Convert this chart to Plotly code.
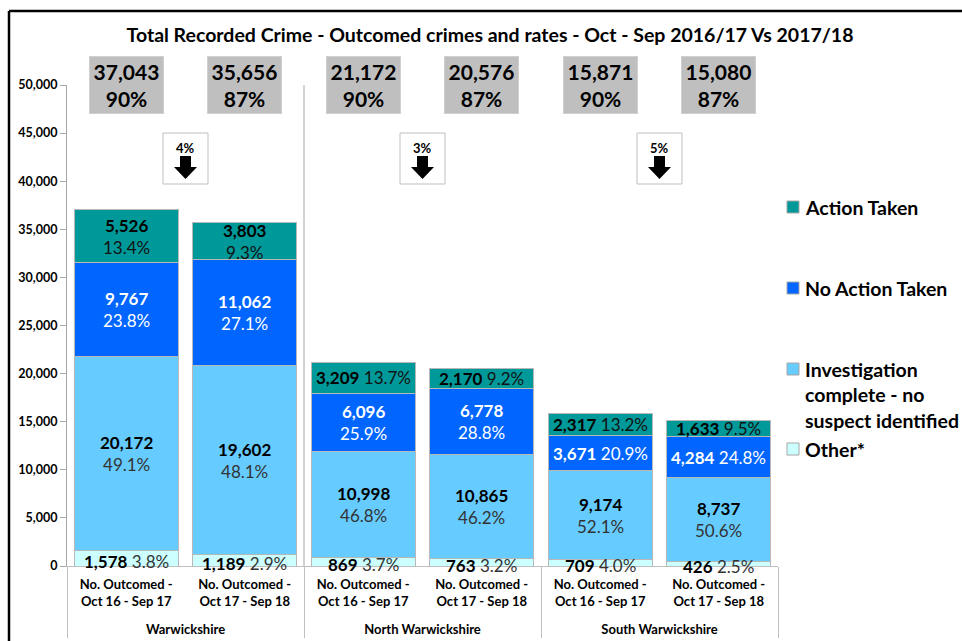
import plotly.graph_objects as go

# ---------------- data ----------------
regions = ["Warwickshire", "Warwickshire",
           "North Warwickshire", "North Warwickshire",
           "South Warwickshire", "South Warwickshire"]
periods = ["No. Outcomed -<br>Oct 16 - Sep 17<br>\u00a0", "No. Outcomed -<br>Oct 17 - Sep 18<br>\u00a0"] * 3

other = [1578, 1189, 869, 763, 709, 426]
investigation = [20172, 19602, 10998, 10865, 9174, 8737]
no_action = [9767, 11062, 6096, 6778, 3671, 4284]
action_taken = [5526, 3803, 3209, 2170, 2317, 1633]

other_pct = [3.8, 2.9, 3.7, 3.2, 4.0, 2.5]
investigation_pct = [49.1, 48.1, 46.8, 46.2, 52.1, 50.6]
no_action_pct = [23.8, 27.1, 25.9, 28.8, 20.9, 24.8]
action_taken_pct = [13.4, 9.3, 13.7, 9.2, 13.2, 9.5]

total_outcomed = [37043, 35656, 21172, 20576, 15871, 15080]
outcome_rate = [90, 87, 90, 87, 90, 87]

change_pct = [4, 3, 5]          # decrease per region (pairs of bars)
y_ticks = list(range(0, 50001, 5000))

title_text = "Total Recorded Crime - Outcomed crimes and rates - Oct - Sep 2016/17 Vs 2017/18"

# ---------------- styles ----------------
FONT = "Lato"
series = [
    # name, values, pct, colour, value colour, pct colour, bars from which label is on one line
    ("Other*", other, other_pct, "#ccffff", "black", "#333333", 0),
    ("Investigation complete - no suspect identified", investigation, investigation_pct,
     "#66ccff", "black", "#333333", 6),
    ("No Action Taken", no_action, no_action_pct, "#0066ff", "white", "white", 4),
    ("Action Taken", action_taken, action_taken_pct, "#009999", "black", "#111111", 2),
]

W, H = 962, 641
L, R, T, B = 67, 778, 85, 566
n = len(regions)


def xp(i):          # category index -> paper x
    return (i + 0.5) / n


def px_x(px):       # pixel -> paper
    return (px - L) / (R - L)


def px_y(py):
    return (B - py) / (B - T)


fig = go.Figure()
for name, vals, pcts, col, vc, pc, one_from in series:
    fig.add_trace(go.Bar(
        x=[regions, periods], y=vals, name=name,
        marker=dict(color=col, line=dict(color="#b8b8b8", width=1)),
        hoverinfo="y+name",
    ))

annotations = []
shapes = []

# segment labels
base = [0] * n
for name, vals, pcts, col, vc, pc, one_from in series:
    for i in range(n):
        mid = base[i] + vals[i] / 2
        if i >= one_from:
            txt = f"<b>{vals[i]:,}</b> <span style='color:{pc}'>{pcts[i]:.1f}%</span>"
        else:
            txt = f"<b>{vals[i]:,}</b><br><span style='color:{pc}'>{pcts[i]:.1f}%</span>"
        annotations.append(dict(
            x=xp(i), xref="paper", xanchor="center", y=mid, yref="y", yanchor="middle",
            text=txt, showarrow=False,
            font=dict(family=FONT, size=17, color=vc),
            yshift=-3 if name == "Other*" else 0,
        ))
        base[i] += vals[i]

# totals boxes
for i in range(n):
    annotations.append(dict(
        x=xp(i), xref="paper", xanchor="center", y=1, yref="paper", yanchor="middle",
        text=f"<b>{total_outcomed[i]:,}<br>{outcome_rate[i]}%</b>",
        showarrow=False, bgcolor="#bfbfbf", bordercolor="#d0d0d0", borderwidth=1,
        borderpad=0, width=73, height=56,
        font=dict(family=FONT, size=21, color="black"),
    ))

# change boxes with arrows
for k, c in enumerate(change_pct):
    cx = xp(2 * k + 0.5)
    half = 22.5 / (R - L)
    shapes.append(dict(type="rect", xref="paper", yref="paper",
                       x0=cx - half, x1=cx + half, y0=px_y(184), y1=px_y(133),
                       line=dict(color="#bfbfbf", width=1), fillcolor="white"))
    annotations.append(dict(x=cx, xref="paper", xanchor="center",
                            y=px_y(148), yref="paper", yanchor="middle",
                            text=f"<b>{c}%</b>", showarrow=False,
                            font=dict(family=FONT, size=13, color="black")))
    shapes.append(dict(type="path", xref="paper", yref="paper",
                       xsizemode="pixel", ysizemode="pixel",
                       xanchor=cx, yanchor=px_y(167),
                       path="M -5.5 11 L 5.5 11 L 5.5 0 L 11.5 0 L 0 -12 L -11.5 0 L -5.5 0 Z",
                       fillcolor="black", line=dict(color="black", width=0)))

# separator inside plot between Warwickshire and districts
shapes.append(dict(type="line", xref="paper", yref="paper",
                   x0=xp(1.5), x1=xp(1.5), y0=0, y1=1,
                   line=dict(color="#a6a6a6", width=1)))

# outer frame (top and left)
shapes.append(dict(type="line", xref="paper", yref="paper",
                   x0=px_x(9), x1=px_x(970), y0=px_y(11), y1=px_y(11),
                   line=dict(color="black", width=2.5)))
shapes.append(dict(type="line", xref="paper", yref="paper",
                   x0=px_x(9), x1=px_x(9), y0=px_y(11), y1=px_y(650),
                   line=dict(color="black", width=2.5)))

# legend (manual)
legend_rows = [("Action Taken", "#009999", 207),
               ("No Action Taken", "#0066ff", 288),
               ("Investigation<br>complete - no<br>suspect identified", "#66ccff", 369),
               ("Other*", "#ccffff", 449)]
for name, col, yc in legend_rows:
    shapes.append(dict(type="rect", xref="paper", yref="paper",
                       x0=px_x(787), x1=px_x(799), y0=px_y(yc + 6), y1=px_y(yc - 6),
                       fillcolor=col, line=dict(color="#a6a6a6", width=1)))
    annotations.append(dict(x=px_x(804), xref="paper", y=px_y(yc - 12.5), yref="paper",
                            xanchor="left", yanchor="top", align="left",
                            text=f"<b>{name}</b>", showarrow=False, borderpad=0,
                            font=dict(family=FONT, size=19.5, color="black")))

fig.update_layout(
    width=W, height=H,
    margin=dict(l=L, r=W - R, t=T, b=H - B),
    barmode="stack", bargap=0.12,
    plot_bgcolor="white", paper_bgcolor="white",
    showlegend=False,
    font=dict(family=FONT, color="black"),
    title=dict(text=f"<b>{title_text}</b>", x=490 / W, xref="container", xanchor="center",
               y=1 - 35 / H, yref="container", yanchor="middle",
               font=dict(family=FONT, size=19.5, color="black")),
    xaxis=dict(type="multicategory", showline=True, linecolor="#bfbfbf", linewidth=1,
               ticks="", ticklabelstandoff=6, automargin=False,
               showgrid=False, showdividers=True, dividercolor="#bfbfbf",
               dividerwidth=1, tickfont=dict(family=FONT, size=13, color="black", weight="bold")),
    yaxis=dict(range=[0, 50000], tickvals=y_ticks, tickformat=",", ticks="outside",
               ticklen=6, tickcolor="#a6a6a6", showline=True, linecolor="#a6a6a6",
               showgrid=False, zeroline=False, automargin=False,
               tickfont=dict(family=FONT, size=12.5, color="black", weight="bold")),
    annotations=annotations, shapes=shapes,
)

fig.write_html("out.html", config={"displayModeBar": False},
               post_script="document.body.style.margin='0px';")
